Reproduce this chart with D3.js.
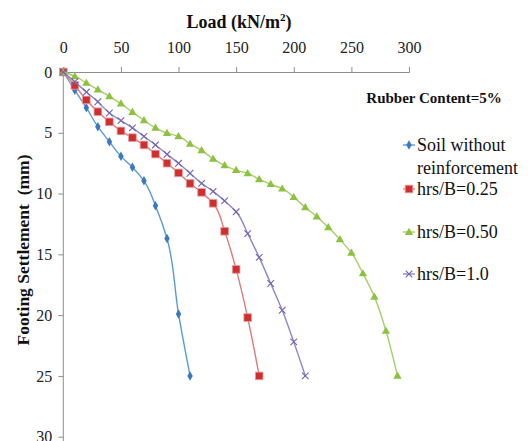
<!DOCTYPE html>
<html>
<head>
<meta charset="utf-8">
<script src="https://cdn.jsdelivr.net/npm/d3@7"></script>
<style>
  body { margin: 0; background: #fff; }
  svg { display: block; }
  svg text { font-family: "Liberation Serif", "DejaVu Serif", serif !important; }
  .axis path, .axis line { stroke: #8e8e8e; }
  .axis text { font-size: 16px; fill: #222; }
</style>
</head>
<body>
<div class="chart"></div>
<script>
// Data: load (kN/m2) vs footing settlement (mm), rubber content 5%
const loadTicks = [0, 50, 100, 150, 200, 250, 300];
const settleTicks = [0, 5, 10, 15, 20, 25, 30];

const loadSoil = [0, 10, 20, 30, 40, 50, 60, 70, 80, 90, 100, 110];
const settleSoil = [0, 1.5, 2.94, 4.5, 5.74, 6.94, 7.84, 8.95, 11.0, 13.7, 19.9, 25.0];

const loadR025 = [0, 10, 20, 30, 40, 50, 60, 70, 80, 90, 100, 110, 120, 130, 140, 150, 160, 170];
const settleR025 = [0, 1.1, 2.3, 3.27, 4.1, 4.85, 5.4, 6.0, 6.75, 7.5, 8.3, 9.17, 9.9, 10.8, 13.1, 16.24, 20.2, 25.0];

const loadR050 = [0, 10, 20, 30, 40, 50, 60, 70, 80, 90, 100, 110, 120, 130, 140,
  150, 160, 170, 180, 190, 200, 210, 220, 230, 240, 250, 260, 270, 280, 290];
const settleR050 = [0, 0.35, 0.9, 1.45, 2.0, 2.6, 3.3, 3.97, 4.6, 5.02, 5.3, 5.92, 6.45, 7.15, 7.68,
  8.07, 8.34, 8.83, 9.22, 9.6, 10.3, 11.14, 11.9, 12.78, 13.77, 14.87, 16.57, 18.5, 21.3, 25.0];

const loadR10 = [0, 10, 20, 30, 40, 50, 60, 70, 80, 90, 100, 110, 120, 130, 140, 150, 160, 170, 180, 190, 200, 210];
const settleR10 = [0, 0.8, 1.65, 2.45, 3.37, 4.0, 4.6, 5.3, 6.0, 6.77, 7.51, 8.33, 9.16, 9.82, 10.6, 11.5, 13.3, 15.25, 17.4, 19.6, 22.2, 25.0];

const seriesNames = ["Soil without reinforcement", "hrs/B=0.25", "hrs/B=0.50", "hrs/B=1.0"];

const series = [
  { name: seriesNames[0], x: loadSoil, y: settleSoil, line: "#5b9bd5", fill: "#3a78c2", shape: "diamond" },
  { name: seriesNames[1], x: loadR025, y: settleR025, line: "#e07b7b", fill: "#cf2f2f", shape: "square" },
  { name: seriesNames[2], x: loadR050, y: settleR050, line: "#a6cf6a", fill: "#8cc23f", shape: "triangle" },
  { name: seriesNames[3], x: loadR10, y: settleR10, line: "#8888c8", fill: "#7163b3", shape: "cross" }
];

const W = 528, H = 441;
const svg = d3.select(".chart").append("svg")
  .attr("width", W)
  .attr("height", H);

// scales
const xScale = d3.scaleLinear().domain([0, 300]).range([63.3, 409]);
const yScale = d3.scaleLinear().domain([0, 30]).range([72, 436.7]);

// axes
const xAxis = d3.axisTop(xScale).tickValues(loadTicks).tickSize(5).tickPadding(14).tickSizeOuter(5);
const yAxis = d3.axisLeft(yScale).tickValues(settleTicks).tickSize(5).tickPadding(6).tickSizeOuter(0);

svg.append("g")
  .attr("class", "axis x-axis")
  .attr("transform", `translate(0,${yScale(0)})`)
  .call(xAxis);

const yg = svg.append("g")
  .attr("class", "axis y-axis")
  .attr("transform", `translate(${xScale(0)},0)`)
  .call(yAxis);
yg.select(".domain").attr("d", `M0,${yScale(0)}V${H}`);
yg.selectAll(".tick").filter(d => d === 0).select("line").remove();

// axis titles
const xt = svg.append("text")
  .attr("x", 239)
  .attr("y", 28)
  .attr("text-anchor", "middle")
  .attr("font-size", 18)
  .attr("font-weight", "bold")
  .attr("fill", "#111");
xt.append("tspan").text("Load (kN/m");
xt.append("tspan").attr("font-size", 11).attr("dy", -7).text("2");
xt.append("tspan").attr("dy", 7).text(")");

svg.append("text")
  .attr("transform", "translate(29,250) rotate(-90)")
  .attr("text-anchor", "middle")
  .attr("font-size", 17.5)
  .attr("font-weight", "bold")
  .attr("fill", "#111")
  .attr("xml:space", "preserve")
  .text("Footing Settlement  (mm)");

svg.append("text")
  .attr("x", 434)
  .attr("y", 103)
  .attr("text-anchor", "middle")
  .attr("font-size", 15)
  .attr("font-weight", "bold")
  .attr("fill", "#111")
  .text("Rubber Content=5%");

// marker drawing
function drawMarker(g, s, cx, cy) {
  if (s.shape === "diamond") {
    g.append("path")
      .attr("d", d3.symbol(d3.symbolDiamond, 26)())
      .attr("transform", `translate(${cx},${cy})`)
      .attr("fill", s.fill);
  } else if (s.shape === "square") {
    g.append("rect")
      .attr("x", cx - 3.8).attr("y", cy - 3.8)
      .attr("width", 7.6).attr("height", 7.6)
      .attr("fill", s.fill)
      .attr("stroke", "#e69a9a")
      .attr("stroke-width", 0.8);
  } else if (s.shape === "triangle") {
    g.append("path")
      .attr("d", d3.symbol(d3.symbolTriangle, 30)())
      .attr("transform", `translate(${cx},${cy + 0.5})`)
      .attr("fill", s.fill);
  } else {
    g.append("path")
      .attr("d", `M${cx - 3.3},${cy - 3.3}L${cx + 3.3},${cy + 3.3}M${cx - 3.3},${cy + 3.3}L${cx + 3.3},${cy - 3.3}`)
      .attr("stroke", s.fill)
      .attr("stroke-width", 1.1);
  }
}

// series lines and markers
const line = d3.line()
  .x(d => xScale(d[0]))
  .y(d => yScale(d[1]))
  .curve(d3.curveMonotoneY);

series.forEach(s => {
  const pts = s.x.map((v, i) => [v, s.y[i]]);
  const g = svg.append("g").attr("class", "series");
  g.append("path")
    .datum(pts)
    .attr("d", line)
    .attr("fill", "none")
    .attr("stroke", s.line)
    .attr("stroke-width", 1.4);
  pts.forEach(p => drawMarker(g, s, xScale(p[0]), yScale(p[1])));
});

// legend
const legend = svg.append("g").attr("class", "legend");
const legendRows = [
  { s: series[0], y: 145, lines: ["Soil without", "reinforcement"] },
  { s: series[1], y: 189, lines: ["hrs/B=0.25"] },
  { s: series[2], y: 232, lines: ["hrs/B=0.50"] },
  { s: series[3], y: 274, lines: ["hrs/B=1.0"] }
];
legendRows.forEach(r => {
  legend.append("line")
    .attr("x1", 403).attr("x2", 415)
    .attr("y1", r.y).attr("y2", r.y)
    .attr("stroke", r.s.line)
    .attr("stroke-width", 1.4);
  drawMarker(legend, r.s, 409, r.y);
  r.lines.forEach((t, i) => {
    legend.append("text")
      .attr("x", 417)
      .attr("y", r.y + 6 + i * 23)
      .attr("font-size", 18)
      .attr("fill", "#111")
      .text(t);
  });
});
</script>
</body>
</html>
